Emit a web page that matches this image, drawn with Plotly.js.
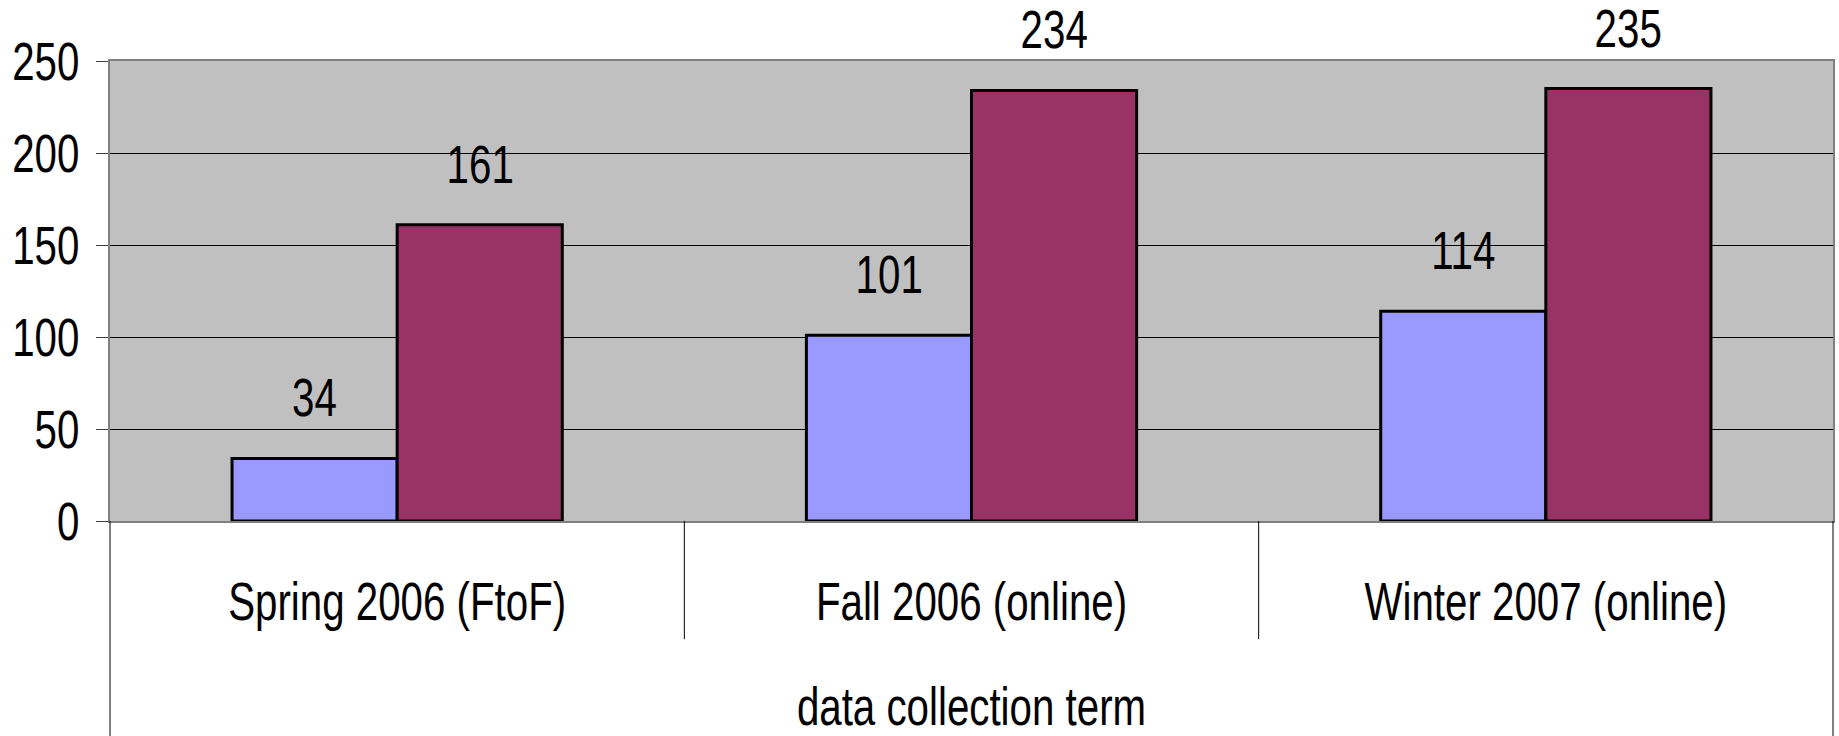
<!DOCTYPE html>
<html>
<head>
<meta charset="utf-8">
<script src="https://cdn.plot.ly/plotly-3.0.1.min.js"></script>
<style>html,body{margin:0;padding:0;background:#fff;}#chart{width:1839px;height:736px;}</style>
</head>
<body>
<div id="chart"></div>
<script>
const categories = ["Spring 2006 (FtoF)", "Fall 2006 (online)", "Winter 2007 (online)"];
const seriesA = [34, 101, 114];
const seriesB = [161, 234, 235];
const yTicks = [0, 50, 100, 150, 200, 250];
const xTitle = "data collection term";

const FONT = '"Liberation Sans Narrow", "Arial Narrow", "Liberation Sans", Arial, sans-serif';
const FS = 53;
const NARROW = 0.76;
const bargap = 0.425;
const barW = (1 - bargap) / 2;
const idx = categories.map((c, i) => i);

const traces = [
  {type: 'bar', x: idx, y: seriesA, marker: {color: '#9999FF', line: {color: '#000', width: 3}}, hoverinfo: 'none'},
  {type: 'bar', x: idx, y: seriesB, marker: {color: '#993366', line: {color: '#000', width: 3}}, hoverinfo: 'none'}
];

const annotations = [];
[seriesA, seriesB].forEach((s, k) => {
  const off = (k === 0 ? -1 : 1) * barW / 2;
  s.forEach((v, i) => {
    annotations.push({x: i + off, y: v, xref: 'x', yref: 'y', text: String(v), showarrow: false,
      yanchor: 'bottom', yshift: 29, font: {family: FONT, size: FS, color: '#000'}});
  });
});

const shapes = [];
for (let i = 0; i < categories.length - 1; i++) {
  shapes.push({type: 'line', xref: 'x', yref: 'paper', x0: i + 0.5, x1: i + 0.5, y0: 0, y1: -0.257, line: {color: '#000', width: 1}});
}
shapes.push({type: 'line', xref: 'paper', yref: 'paper', x0: 0, x1: 0, y0: 0, y1: -0.5, line: {color: '#000', width: 1}});
shapes.push({type: 'line', xref: 'paper', yref: 'paper', x0: 1, x1: 1, y0: 0, y1: -0.5, line: {color: '#000', width: 1}});

const layout = {
  width: 1839, height: 736,
  margin: {l: 110, r: 6, t: 61, b: 215, pad: 0},
  paper_bgcolor: '#fff', plot_bgcolor: '#C0C0C0',
  barmode: 'group', bargap: bargap, bargroupgap: 0,
  showlegend: false,
  font: {family: FONT, size: FS, color: '#000'},
  xaxis: {
    type: 'linear', range: [-0.5, categories.length - 0.5],
    tickmode: 'array', tickvals: idx, ticktext: categories,
    ticks: '', showgrid: false, zeroline: false,
    showline: true, linecolor: '#808080', linewidth: 2, mirror: true,
    ticklabelstandoff: 33,
    tickfont: {family: FONT, size: FS, color: '#000'},
    title: {text: xTitle, font: {family: FONT, size: FS, color: '#000'}, standoff: 62},
    fixedrange: true
  },
  yaxis: {
    range: [0, 250], tickmode: 'array', tickvals: yTicks,
    ticks: 'outside', ticklen: 12, tickcolor: '#404040', tickwidth: 1,
    ticklabelstandoff: 6,
    showgrid: true, gridcolor: '#000', gridwidth: 1,
    zeroline: false,
    showline: true, linecolor: '#808080', linewidth: 2, mirror: true,
    tickfont: {family: FONT, size: FS, color: '#000'},
    fixedrange: true
  },
  annotations: annotations,
  shapes: shapes
};

function narrowText() {
  document.querySelectorAll('#chart svg text').forEach(t => {
    if (t.getAttribute('data-narrowed')) return;
    const x = parseFloat(t.getAttribute('x')) || 0;
    const tr = t.getAttribute('transform') || '';
    t.setAttribute('transform', tr + ' translate(' + x + ',0) scale(' + NARROW + ',1) translate(' + (-x) + ',0)');
    t.setAttribute('data-narrowed', '1');
  });
}

Plotly.newPlot('chart', traces, layout, {displayModeBar: false, staticPlot: true}).then(narrowText);
</script>
</body>
</html>
